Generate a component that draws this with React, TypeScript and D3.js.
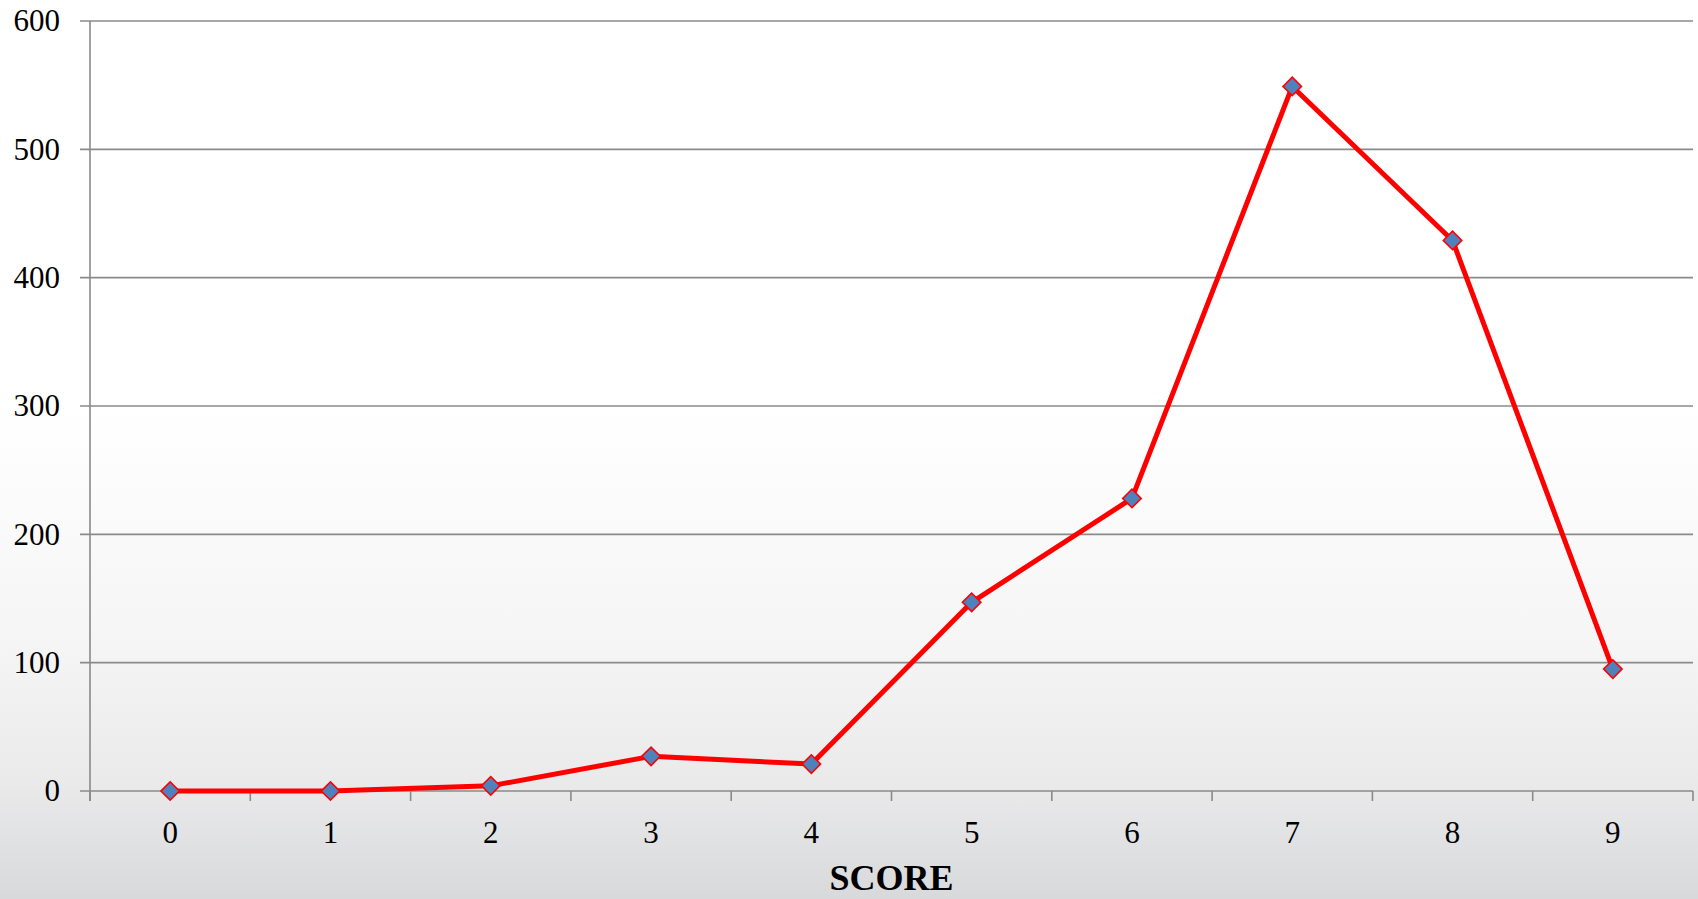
import React from "react";
import * as d3 from "d3";

// Score distribution: count of responses for each score value
const categories: string[] = ["0", "1", "2", "3", "4", "5", "6", "7", "8", "9"];
const counts: number[] = [0, 0, 4, 27, 21, 147, 228, 549, 429, 95];
const yTicks: number[] = [0, 100, 200, 300, 400, 500, 600];
const xTitle = "SCORE";

const W = 1698;
const H = 899;
const plot = { left: 90, right: 1693, top: 21, bottom: 791 };
const gridColor = "#8a8a8a";
const fontFamily = "'Liberation Serif', 'Times New Roman', serif";

export default function App() {
  const x = d3.scaleBand<string>().domain(categories).range([plot.left, plot.right]).padding(0);
  const y = d3.scaleLinear().domain([0, 600]).range([plot.bottom, plot.top]);
  const cx = (c: string) => (x(c) ?? 0) + x.bandwidth() / 2;

  const line = d3
    .line<number>()
    .x((_, i) => cx(categories[i]))
    .y((d) => y(d));

  const diamond = d3.symbol().type(d3.symbolSquare).size(170)() ?? "";

  // tick positions at the category boundaries
  const boundaries = d3.range(categories.length + 1).map((i) => plot.left + i * x.bandwidth());

  return (
    <svg
      width={W}
      height={H}
      style={{ position: "absolute", left: 0, top: 0, display: "block" }}
    >
      <defs>
        <linearGradient id="bg" x1="0" y1="0" x2="0" y2="1">
          <stop offset="0" stopColor="#ffffff" />
          <stop offset="0.45" stopColor="#ffffff" />
          <stop offset="0.72" stopColor="#f5f5f5" />
          <stop offset="0.87" stopColor="#eaeaeb" />
          <stop offset="1" stopColor="#d8d9db" />
        </linearGradient>
      </defs>
      <rect x={0} y={0} width={W} height={H} fill="url(#bg)" />

      {/* horizontal gridlines with left tick marks */}
      {yTicks.map((t) => (
        <line
          key={`g${t}`}
          x1={plot.left - 10}
          x2={plot.right}
          y1={y(t)}
          y2={y(t)}
          stroke={gridColor}
          strokeWidth={1.6}
        />
      ))}

      {/* y axis */}
      <line x1={plot.left} x2={plot.left} y1={plot.top} y2={plot.bottom + 10} stroke={gridColor} strokeWidth={1.6} />

      {/* x axis tick marks */}
      {boundaries.map((bx, i) => (
        <line key={`xt${i}`} x1={bx} x2={bx} y1={plot.bottom} y2={plot.bottom + 10} stroke={gridColor} strokeWidth={1.6} />
      ))}

      {/* y tick labels */}
      {yTicks.map((t) => (
        <text
          key={`yl${t}`}
          x={plot.left - 30}
          y={y(t)}
          dy="0.33em"
          textAnchor="end"
          fontFamily={fontFamily}
          fontSize={31}
          fill="#000"
        >
          {t}
        </text>
      ))}

      {/* x tick labels */}
      {categories.map((c) => (
        <text
          key={`xl${c}`}
          x={cx(c)}
          y={843}
          textAnchor="middle"
          fontFamily={fontFamily}
          fontSize={31}
          fill="#000"
        >
          {c}
        </text>
      ))}

      {/* axis title */}
      <text
        x={(plot.left + plot.right) / 2}
        y={890}
        textAnchor="middle"
        fontFamily={fontFamily}
        fontSize={36}
        fontWeight="bold"
        fill="#000"
      >
        {xTitle}
      </text>

      {/* series line */}
      <path d={line(counts) ?? ""} fill="none" stroke="#ff0000" strokeWidth={5} strokeLinejoin="round" />

      {/* diamond markers */}
      {counts.map((v, i) => (
        <path
          key={`m${i}`}
          d={diamond}
          transform={`translate(${cx(categories[i])},${y(v)}) rotate(45)`}
          fill="#4f81bd"
          stroke="#ff0000"
          strokeWidth={1.6}
        />
      ))}
    </svg>
  );
}
